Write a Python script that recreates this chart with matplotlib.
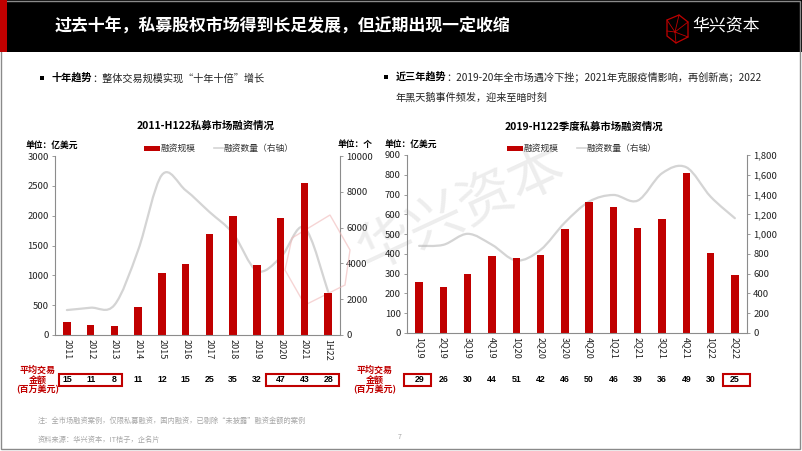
import matplotlib
matplotlib.use("Agg")
import matplotlib.pyplot as plt
from matplotlib.path import Path
from matplotlib.patches import PathPatch, Rectangle, Polygon
import matplotlib.transforms as mtransforms
from matplotlib.ticker import FuncFormatter, MultipleLocator
import numpy as np

plt.rcParams['font.family'] = ['Noto Sans CJK SC', 'DejaVu Sans']

# ---------------- data ----------------
years = ["2011", "2012", "2013", "2014", "2015", "2016", "2017", "2018", "2019", "2020", "2021", "1H22"]
year_amount = [212, 167, 150, 468, 1032, 1188, 1695, 1996, 1171, 1963, 2554, 697]
year_count = [1394, 1524, 1673, 4740, 8940, 8085, 6877, 5669, 3587, 4331, 6004, 2416]
year_avg = [15, 11, 8, 11, 12, 15, 25, 35, 32, 47, 43, 28]

quarters = ["1Q19", "2Q19", "3Q19", "4Q19", "1Q20", "2Q20", "3Q20", "4Q20",
            "1Q21", "2Q21", "3Q21", "4Q21", "1Q22", "2Q22"]
q_amount = [256, 232, 298, 389, 377, 395, 525, 664, 638, 530, 577, 811, 404, 294]
q_count = [881, 892, 1003, 892, 733, 841, 1117, 1329, 1396, 1339, 1615, 1676, 1379, 1161]
q_avg = [29, 26, 30, 44, 51, 42, 46, 50, 46, 39, 36, 49, 30, 25]

RED = "#C00000"
LINE = "#D4D4D4"
AX = "#8C8C8C"
W, H = 802, 451

fig = plt.figure(figsize=(W / 100, H / 100), dpi=100)
fig.patch.set_facecolor("white")
renderer = fig.canvas.get_renderer()


def fx(px):
    return px / W


def fy(py):
    return 1 - py / H


def text_right_px(t):
    bb = t.get_window_extent(renderer=renderer)
    return bb.x1


# ---------------- header ----------------
fig.patches.append(Rectangle((0, fy(52)), 1, 52 / H, transform=fig.transFigure,
                             facecolor="black", edgecolor="none", zorder=0))
fig.patches.append(Rectangle((0, fy(52)), fx(7), 52 / H, transform=fig.transFigure,
                             facecolor=RED, edgecolor="none", zorder=1))
fig.text(fx(55), fy(27), "过去十年，私募股权市场得到长足发展，但近期出现一定收缩",
         color="white", fontsize=12.2, fontweight="bold", va="center", ha="left")

# logo (cube outline)
cx, cy = 677, 29
hexpts = [(cx - 10, cy - 9), (cx + 2, cy - 14), (cx + 11, cy - 7), (cx + 11, cy + 8),
          (cx - 1, cy + 14), (cx - 10, cy + 7)]
fig.patches.append(Polygon([(fx(a), fy(b)) for a, b in hexpts], closed=True,
                           transform=fig.transFigure, facecolor="none", edgecolor=RED, lw=0.9))
for a, b in [(cx - 10, cy - 9), (cx + 11, cy - 7), (cx - 1, cy + 14), (cx - 10, cy + 2),
             (cx + 11, cy + 8), (cx + 2, cy - 14)]:
    fig.lines.append(plt.Line2D([fx(cx - 2), fx(a)], [fy(cy + 3), fy(b)], transform=fig.transFigure,
                                color=RED, lw=0.6))
fig.text(fx(692), fy(25), "华兴资本", color="white", fontsize=12.2, fontweight="light",
         va="center", ha="left")

# slide border
fig.patches.append(Rectangle((fx(1), fy(449)), fx(799), 448 / H, transform=fig.transFigure,
                             facecolor="none", edgecolor="#8a8a8a", lw=1.0, zorder=0))

# ---------------- bullets ----------------
for bx, by in ((40, 78), (384, 77)):
    fig.patches.append(Rectangle((fx(bx), fy(by + 2)), fx(4), 4 / H, transform=fig.transFigure,
                                 facecolor="black", edgecolor="none"))
t = fig.text(fx(52), fy(78), "十年趋势", fontsize=7.3, fontweight="bold", va="center", ha="left")
fig.text(text_right_px(t) / W, fy(78), "：整体交易规模实现“十年十倍”增长", fontsize=7.3,
         va="center", ha="left", color="#222222")

t = fig.text(fx(396), fy(77), "近三年趋势", fontsize=7.3, fontweight="bold", va="center", ha="left")
fig.text(text_right_px(t) / W, fy(77), "：2019-20年全市场遇冷下挫；2021年克服疫情影响，再创新高；2022",
         fontsize=7.3, va="center", ha="left", color="#222222")
fig.text(fx(396), fy(98), "年黑天鹅事件频发，迎来至暗时刻", fontsize=7.3, va="center", ha="left",
         color="#222222")


# ---------------- helpers ----------------
def smooth_path(xs, ys):
    pts = np.column_stack([xs, ys]).astype(float)
    n = len(pts)
    verts = [tuple(pts[0])]
    codes = [Path.MOVETO]
    for i in range(n - 1):
        p0 = pts[i - 1] if i > 0 else pts[i]
        p1 = pts[i]
        p2 = pts[i + 1]
        p3 = pts[i + 2] if i + 2 < n else pts[i + 1]
        c1 = p1 + (p2 - p0) / 6.0
        c2 = p2 - (p3 - p1) / 6.0
        verts += [tuple(c1), tuple(c2), tuple(p2)]
        codes += [Path.CURVE4] * 3
    return Path(verts, codes)


def style_axes(ax, ax2):
    for a in (ax, ax2):
        a.spines["top"].set_visible(False)
        a.set_facecolor("none")
    ax.spines["right"].set_visible(False)
    ax2.spines["left"].set_visible(False)
    ax2.spines["bottom"].set_visible(False)
    for s in ("left", "bottom"):
        ax.spines[s].set_color(AX)
        ax.spines[s].set_linewidth(0.8)
    ax2.spines["right"].set_color(AX)
    ax2.spines["right"].set_linewidth(0.8)
    ax.tick_params(axis="y", labelsize=6.8, colors="#222222", length=2.5, width=0.6, color=AX, pad=2)
    ax2.tick_params(axis="y", labelsize=6.8, colors="#222222", length=2.5, width=0.6, color=AX, pad=2)
    ax.tick_params(axis="x", labelsize=6.5, colors="#222222", length=0, pad=3, rotation=270)


def draw_chart(rect, cats, amount, count, avg, ylim1, ystep1, ylim2, ystep2, fmt2):
    ax = fig.add_axes(rect)
    ax2 = ax.twinx()
    x = np.arange(len(cats))
    ax.bar(x, amount, width=0.31, color=RED, zorder=2)
    ax.set_xlim(-0.5, len(cats) - 0.5)
    ax.set_ylim(0, ylim1)
    ax.yaxis.set_major_locator(MultipleLocator(ystep1))
    ax.set_xticks(x)
    ax.set_xticklabels(cats)
    ax2.set_ylim(0, ylim2)
    ax2.yaxis.set_major_locator(MultipleLocator(ystep2))
    if fmt2:
        ax2.yaxis.set_major_formatter(FuncFormatter(lambda v, p: f"{int(v):,}"))
    ax2.add_patch(PathPatch(smooth_path(x, count), facecolor="none", edgecolor=LINE, lw=1.6,
                            zorder=3, capstyle="round"))
    style_axes(ax, ax2)
    ax.set_zorder(ax2.get_zorder() + 1)
    tr = mtransforms.blended_transform_factory(ax.transData, fig.transFigure)
    for xi, v in zip(x, avg):
        ax.text(xi, fy(380), str(v), transform=tr, fontsize=6.3, fontweight="bold",
                ha="center", va="center", color="black", family=["Liberation Sans", "DejaVu Sans"])
    return ax, ax2, tr


# watermark (behind charts)
fig.text(fx(462), fy(210), "华兴资本", fontsize=40, color="#b0b0b0", alpha=0.22, rotation=25,
         ha="center", va="center", zorder=0, fontweight="light")
wm = [(292, 238), (330, 215), (350, 250), (345, 285), (305, 305), (285, 270)]
fig.patches.append(Polygon([(fx(a), fy(b)) for a, b in wm], closed=True, transform=fig.transFigure,
                           facecolor="none", edgecolor="#f0b8b8", lw=1.0, alpha=0.6, zorder=0))

# left chart
axL, axL2, trL = draw_chart([fx(55), fy(335), fx(285), 179 / H], years, year_amount, year_count,
                            year_avg, 3000, 500, 10000, 2000, False)
# right chart
axR, axR2, trR = draw_chart([fx(407), fy(333), fx(340), 178 / H], quarters, q_amount, q_count,
                            q_avg, 900, 100, 1800, 200, True)


def box(ax, tr, x0, x1):
    ax.add_patch(Rectangle((x0, fy(386)), x1 - x0, 12 / H, transform=tr, facecolor="none",
                           edgecolor=RED, lw=1.5, clip_on=False, zorder=5))


box(axL, trL, -0.33, 2.32)
box(axL, trL, 8.38, 11.46)
box(axR, trR, -0.62, 0.48)
box(axR, trR, 12.52, 13.62)

# titles / units / legends
fig.text(fx(206), fy(126), "2011-H122私募市场融资情况", fontsize=7.5, fontweight="bold",
         ha="center", va="center")
fig.text(fx(584), fy(127), "2019-H122季度私募市场融资情况", fontsize=7.5, fontweight="bold",
         ha="center", va="center")
fig.text(fx(26), fy(145), "单位：亿美元", fontsize=6.3, fontweight="bold", ha="left", va="center")
fig.text(fx(338), fy(145), "单位：个", fontsize=6.3, fontweight="bold", ha="left", va="center")
fig.text(fx(385), fy(144), "单位：亿美元", fontsize=6.3, fontweight="bold", ha="left", va="center")


def legend(x0, y):
    fig.patches.append(Rectangle((fx(x0), fy(y + 2.5)), fx(16), 5 / H, transform=fig.transFigure,
                                 facecolor=RED, edgecolor="none"))
    fig.text(fx(x0 + 17), fy(y), "融资规模", fontsize=6.3, ha="left", va="center", color="#333333")
    fig.lines.append(plt.Line2D([fx(x0 + 70), fx(x0 + 79)], [fy(y), fy(y)], transform=fig.transFigure,
                                color=LINE, lw=1.2))
    fig.text(fx(x0 + 80), fy(y), "融资数量（右轴）", fontsize=6.3, ha="left", va="center", color="#333333")


legend(144, 148)
legend(507, 148)

# average labels
for cx_ in (38, 375):
    fig.text(fx(cx_), fy(380), "平均交易\n金额\n(百万美元)", fontsize=6.5, fontweight="bold", color=RED,
             ha="center", va="center", linespacing=1.05)

# footnotes
fig.text(fx(38), fy(421), "注：全市场融资案例，仅限私募融资，国内融资，已剔除“未披露”融资金额的案例",
         fontsize=5.2, color="#a6a6a6", ha="left", va="center")
fig.text(fx(38), fy(440), "资料来源：华兴资本，IT桔子，企名片", fontsize=5.2, color="#a6a6a6",
         ha="left", va="center")
fig.text(fx(400), fy(437), "7", fontsize=5, color="#a6a6a6", ha="center", va="center")

fig.savefig("out.png", dpi=100)
